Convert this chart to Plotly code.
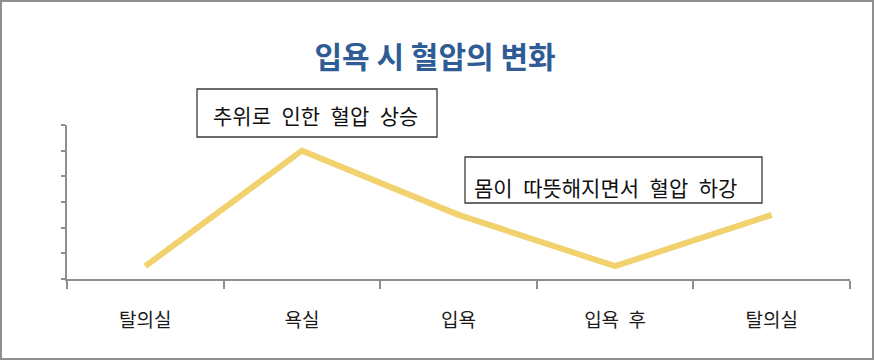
import plotly.graph_objects as go

# ---- data ----
categories = ["탈의실", "욕실", "입욕", "입욕 후", "탈의실"]
blood_pressure = [0.5, 5.0, 2.5, 0.5, 2.5]
title_text = "입욕 시 혈압의 변화"
note_rise = "추위로 인한 혈압 상승"
note_fall = "몸이 따뜻해지면서 혈압 하강"

W, H = 874, 361
L, R, T, B = 67, 850, 125, 279  # plot area in px


def px(x):
    return (x - L) / (R - L)


def py(y):
    return (B - y) / (B - T)


def wide(s):
    # Korean word spacing in the reference is wider than a plain space
    return s.replace(" ", "\u2002")


xpos = list(range(len(categories)))
fig = go.Figure()
fig.add_trace(go.Scatter(
    x=xpos, y=blood_pressure, mode="lines",
    line=dict(color="#F1D26E", width=6), hoverinfo="skip", showlegend=False,
))

FONT = "Noto Sans CJK KR"
AX = "#8e8e8e"

fig.update_layout(
    width=W, height=H,
    margin=dict(l=L, r=W - R, t=T, b=H - B, pad=0),
    paper_bgcolor="white", plot_bgcolor="white",
    showlegend=False,
    font=dict(family=FONT, color="#222222"),
    title=dict(text="<b>" + title_text + "</b>", x=435 / W, xanchor="center",
               y=1 - 57 / H, yanchor="middle",
               font=dict(family=FONT, size=30, color="#2F5C95")),
    xaxis=dict(
        range=[-0.5, len(categories) - 0.5], tickmode="array", tickvals=xpos,
        ticktext=[wide(c) for c in categories], ticks="", showgrid=False, zeroline=False,
        showline=True, linecolor=AX, linewidth=2,
        tickfont=dict(family=FONT, size=19, color="#1a1a1a"),
        ticklabelstandoff=23,
        minor=dict(tickmode="array",
                   tickvals=[i - 0.5 for i in range(len(categories) + 1)],
                   ticks="outside", ticklen=8, tickcolor=AX, tickwidth=1.5),
        fixedrange=True,
    ),
    yaxis=dict(
        range=[0, 6], dtick=1, tick0=0, ticks="outside", ticklen=4,
        tickcolor=AX, tickwidth=2, showticklabels=False, showgrid=False,
        zeroline=False, showline=True, linecolor=AX, linewidth=2,
        fixedrange=True,
    ),
)

shapes = [
    # outer frame
    dict(type="rect", xref="paper", yref="paper",
         x0=px(1), x1=px(873), y0=py(359), y1=py(1),
         line=dict(color="#8f8f8f", width=2), fillcolor="rgba(0,0,0,0)", layer="below"),
    # note boxes
    dict(type="rect", xref="paper", yref="paper",
         x0=px(197), x1=px(437), y0=py(137), y1=py(89),
         line=dict(color="#3a3a3a", width=1.3), fillcolor="white"),
    dict(type="rect", xref="paper", yref="paper",
         x0=px(465), x1=px(762), y0=py(203), y1=py(157),
         line=dict(color="#3a3a3a", width=1.3), fillcolor="white"),
]
fig.update_layout(shapes=shapes)

fig.add_annotation(text=wide(note_rise), xref="paper", yref="paper",
                   x=px(211), y=py(115), xanchor="left", yanchor="middle",
                   showarrow=False, font=dict(family=FONT, size=21, color="#111111"))
fig.add_annotation(text=wide(note_fall), xref="paper", yref="paper",
                   x=px(472), y=py(187), xanchor="left", yanchor="middle",
                   showarrow=False, font=dict(family=FONT, size=21, color="#111111"))

fig.write_html("out.html", config={"displayModeBar": False},
               post_script="document.body.style.margin='0';")
